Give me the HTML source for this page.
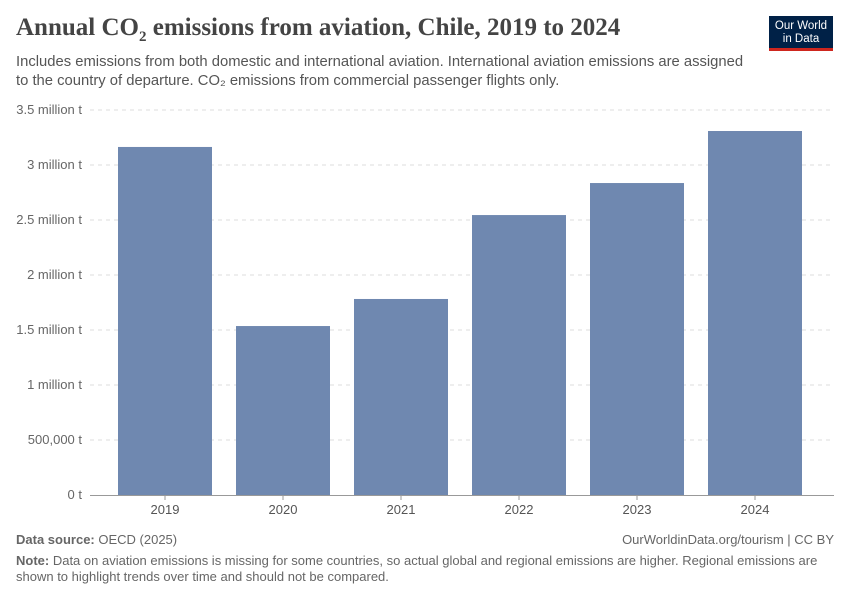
<!DOCTYPE html>
<html><head><meta charset="utf-8"><style>
body{margin:0;background:#fff;font-family:"Liberation Sans",sans-serif;}
#wrap{position:relative;width:850px;height:600px;overflow:hidden;}
.t{position:absolute;white-space:nowrap;}
</style></head><body>
<div id="wrap">
<div class="t" style="left:16px;top:14px;font-family:'Liberation Serif',serif;font-size:25px;font-weight:bold;color:#444;">Annual CO<sub style="font-size:15px">2</sub> emissions from aviation, Chile, 2019 to 2024</div>
<div class="t" style="left:16px;top:53px;font-size:14.8px;color:#555;line-height:19px;">Includes emissions from both domestic and international aviation. International aviation emissions are assigned<br>to the country of departure. CO₂ emissions from commercial passenger flights only.</div>
<div style="position:absolute;left:769px;top:16px;width:64px;height:35px;background:#002147;border-bottom:3px solid #ce261e;box-sizing:border-box;color:#fff;font-size:11.5px;text-align:center;line-height:13px;padding-top:4px;">Our World<br>in Data</div>
<svg id="chart" width="850" height="600" style="position:absolute;left:0;top:0"></svg>
<div class="t" style="left:16px;top:532px;font-size:13px;color:#666;"><b>Data source:</b> OECD (2025)</div>
<div class="t" style="right:16px;top:532px;font-size:13px;color:#666;">OurWorldinData.org/tourism | CC BY</div>
<div class="t" style="left:16px;top:553px;font-size:13px;color:#666;line-height:16px;"><b>Note:</b> Data on aviation emissions is missing for some countries, so actual global and regional emissions are higher. Regional emissions are<br>shown to highlight trends over time and should not be compared.</div>
</div>
<script>
const categories=["2019","2020","2021","2022","2023","2024"];
const values=[3.164,1.536,1.782,2.545,2.836,3.309];
const tickValues=[0,0.5,1,1.5,2,2.5,3,3.5];
const tickLabels=["0 t","500,000 t","1 million t","1.5 million t","2 million t","2.5 million t","3 million t","3.5 million t"];
const svg=document.getElementById('chart');
const NS='http://www.w3.org/2000/svg';
const y0=495,y1=110,vmax=3.5,xL=90,xR=834,bandStart=106,step=118,bw=94;
function y(v){return y0-(v/vmax)*(y0-y1);}
function x(i){return bandStart+i*step+(step-bw)/2;}
function mk(tag,attrs){const e=document.createElementNS(NS,tag);for(const k in attrs)e.setAttribute(k,attrs[k]);svg.appendChild(e);return e;}
tickValues.forEach((v,i)=>{
  if(v>0){const g=mk('line',{x1:xL,x2:xR,y1:y(v),y2:y(v),stroke:'#ddd','stroke-dasharray':'4,4'});
  
  }
  const t=mk('text',{x:82,y:y(v)+4,'text-anchor':'end','font-size':'13',fill:'#666','font-family':'Liberation Sans, sans-serif'});
  t.textContent=tickLabels[i];
  
  
});
values.forEach((v,i)=>{
  const r=mk('rect',{x:x(i),y:y(v),width:bw,height:y0-y(v),fill:'#6f88b0'});
  
  
  const tk=mk('line',{x1:x(i)+bw/2,x2:x(i)+bw/2,y1:y0,y2:y0+5,stroke:'#999'});
  
  
  const t=mk('text',{x:x(i)+bw/2,y:y0+19,'text-anchor':'middle','font-size':'13',fill:'#555','font-family':'Liberation Sans, sans-serif'});
  t.textContent=categories[i];
  
  
});
const ax=mk('line',{x1:xL,x2:xR,y1:y0+0.5,y2:y0+0.5,stroke:'#999'});


</script>
</body></html>
